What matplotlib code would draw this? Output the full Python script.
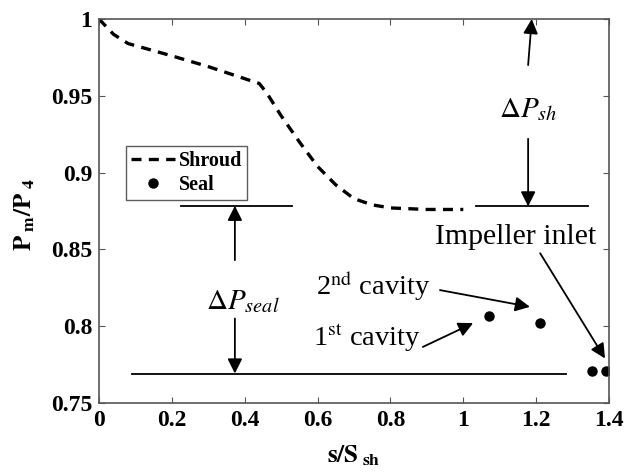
import matplotlib
matplotlib.use("Agg")
import matplotlib.pyplot as plt

plt.rcParams['font.family'] = ['Liberation Serif', 'DejaVu Serif']
plt.rcParams['mathtext.fontset'] = 'stix'

# Data
shroud_s = [0.0, 0.04, 0.08, 0.2, 0.3, 0.44, 0.46, 0.5, 0.55, 0.6, 0.65, 0.7, 0.75, 0.8, 0.9, 1.0]
shroud_p = [1.0, 0.99, 0.984, 0.976, 0.969, 0.958, 0.952, 0.937, 0.92, 0.904, 0.892, 0.883, 0.879, 0.877, 0.876, 0.876]
seal_s = [1.071, 1.211, 1.352, 1.392]
seal_p = [0.8065, 0.802, 0.771, 0.771]
xticks = [0, 0.2, 0.4, 0.6, 0.8, 1.0, 1.2, 1.4]
xticklabels = ['0', '0.2', '0.4', '0.6', '0.8', '1', '1.2', '1.4']
yticks = [0.75, 0.8, 0.85, 0.9, 0.95, 1.0]
yticklabels = ['0.75', '0.8', '0.85', '0.9', '0.95', '1']

fig = plt.figure(figsize=(6.32, 4.73), dpi=100)
ax = fig.add_axes([99/632, 1-403/473, 510/632, 384/473])

ax.plot(shroud_s, shroud_p, 'k--', lw=2.4, dashes=(3, 2.2), label='Shroud')
ax.plot(seal_s, seal_p, 'ko', ms=6.5, ls='none', label='Seal')

ax.set_xlim(0, 1.4)
ax.set_ylim(0.75, 1.0)
ax.set_xticks(xticks)
ax.set_xticklabels(xticklabels)
ax.set_yticks(yticks)
ax.set_yticklabels(yticklabels)
ax.tick_params(direction='in', top=True, right=True, length=4, colors='#555555',
               labelcolor='black', labelsize=17, pad=5)
for lab in ax.get_xticklabels() + ax.get_yticklabels():
    lab.set_fontweight('bold')
for sp in ax.spines.values():
    sp.set_color('#555555')
    sp.set_linewidth(1.2)

ax.text(0.5, -0.105, r'$\mathbf{s/S}_{\mathbf{\ sh}}$', transform=ax.transAxes,
        fontsize=18, ha='center', va='top')
ax.text(-0.145, 0.49, r'$\mathbf{P}_{\mathbf{\ m}}\mathbf{/P}_{\mathbf{\ 4}}$', transform=ax.transAxes,
        fontsize=18, ha='center', va='center', rotation=90)

leg = ax.legend(loc='upper left', bbox_to_anchor=(0.052, 0.67), frameon=True,
                fancybox=False, edgecolor='#333333',
                prop={'weight': 'bold', 'size': 14.5}, handlelength=2.2,
                borderpad=0.25, labelspacing=0.2, handletextpad=0.2,
                borderaxespad=0)
leg.get_frame().set_linewidth(1.0)

# Reference lines
ax.plot([0.225, 0.53], [0.8784, 0.8784], 'k-', lw=1.3)
ax.plot([0.091, 1.281], [0.7692, 0.7692], 'k-', lw=1.3)
ax.plot([1.036, 1.342], [0.878, 0.878], 'k-', lw=1.3)

ap = dict(arrowstyle='-|>', color='k', lw=1.3, mutation_scale=22, shrinkA=0, shrinkB=0)
ax.annotate('', xy=(0.373, 0.8784), xytext=(0.373, 0.843), arrowprops=ap)
ax.annotate('', xy=(0.373, 0.7692), xytext=(0.373, 0.805), arrowprops=ap)
ax.text(0.395, 0.816, r'$\Delta P_{seal}$', fontsize=21, ha='center', va='center')

ax.annotate('', xy=(1.188, 1.0), xytext=(1.178, 0.970), arrowprops=ap)
ax.annotate('', xy=(1.178, 0.878), xytext=(1.178, 0.922), arrowprops=ap)
ax.text(1.178, 0.941, r'$\Delta P_{sh}$', fontsize=21, ha='center', va='center')

ax.text(1.145, 0.858, 'Impeller inlet', fontsize=21.5, ha='center', va='center')
ax.annotate('', xy=(1.389, 0.779), xytext=(1.211, 0.8475), arrowprops=ap)

ax.text(0.752, 0.826, r'2$^{\rm nd}$ cavity', fontsize=20.5, ha='center', va='center')
ax.annotate('', xy=(1.183, 0.8126), xytext=(0.936, 0.8235), arrowprops=ap)

ax.text(0.736, 0.792, r'1$^{\rm st}$ cavity', fontsize=20.5, ha='center', va='center')
ax.annotate('', xy=(1.027, 0.802), xytext=(0.889, 0.7865), arrowprops=ap)

fig.savefig('out.png', dpi=100)
